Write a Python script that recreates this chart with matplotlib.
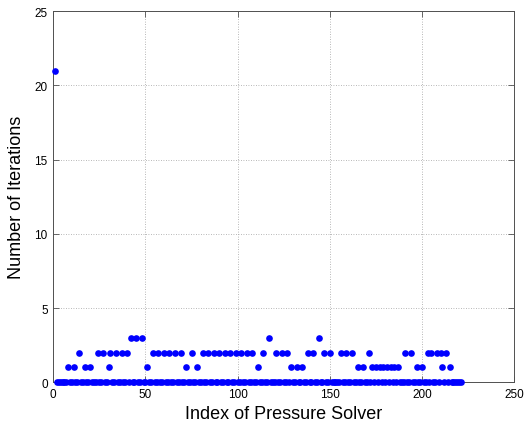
import numpy as np
import matplotlib
matplotlib.use("Agg")
import matplotlib.pyplot as plt

# iterations per pressure solve (index 1..221, zero unless listed)
n_solves = 221
first_iterations = 21
one_iter_idx = [8, 11, 17, 20, 30, 51, 72, 78, 111, 129, 132, 135, 165, 168,
                173, 175, 177, 179, 181, 183, 185, 187, 197, 200, 211, 215]
two_iter_idx = [14, 24, 27, 31, 34, 37, 40, 54, 57, 60, 63, 66, 69, 75, 81, 84,
                87, 90, 93, 96, 99, 102, 105, 108, 114, 121, 124, 127, 138, 141,
                147, 150, 156, 159, 162, 171, 191, 194, 203, 205, 208, 210, 213]
three_iter_idx = [42, 45, 48, 117, 144]

x_ticks = [0, 50, 100, 150, 200, 250]
y_ticks = [0, 5, 10, 15, 20, 25]

index = np.arange(1, n_solves + 1)
iterations = np.zeros(n_solves)
iterations[0] = first_iterations
for idx_list, val in [(one_iter_idx, 1), (two_iter_idx, 2), (three_iter_idx, 3)]:
    for i in idx_list:
        iterations[i - 1] = val

plt.rcParams["font.family"] = ["Liberation Sans", "DejaVu Sans"]

fig = plt.figure(figsize=(5.26, 4.31), dpi=100)
ax = fig.add_axes([0.1013, 0.1107, 0.8764, 0.8608])

ax.plot(index, iterations, linestyle="none", marker="o", markersize=4.8,
        color=(0, 0, 1), markeredgewidth=0, clip_on=False, zorder=3)

ax.set_xlim(0, 250)
ax.set_ylim(0, 25)
ax.set_xticks(x_ticks)
ax.set_yticks(y_ticks)
ax.tick_params(direction="in", top=True, right=True, labelsize=8.5,
               length=4, width=0.6, color="#505050", pad=4)
for sp in ax.spines.values():
    sp.set_color("#505050")
    sp.set_linewidth(0.7)
ax.grid(True, linestyle=(0, (1, 2)), color="#a0a0a0", linewidth=0.6)
ax.set_axisbelow(True)

ax.set_xlabel("Index of Pressure Solver", fontsize=13, labelpad=4)
ax.set_ylabel("Number of Iterations", fontsize=13, labelpad=7)

fig.savefig("out.png", dpi=100)
plt.close(fig)
